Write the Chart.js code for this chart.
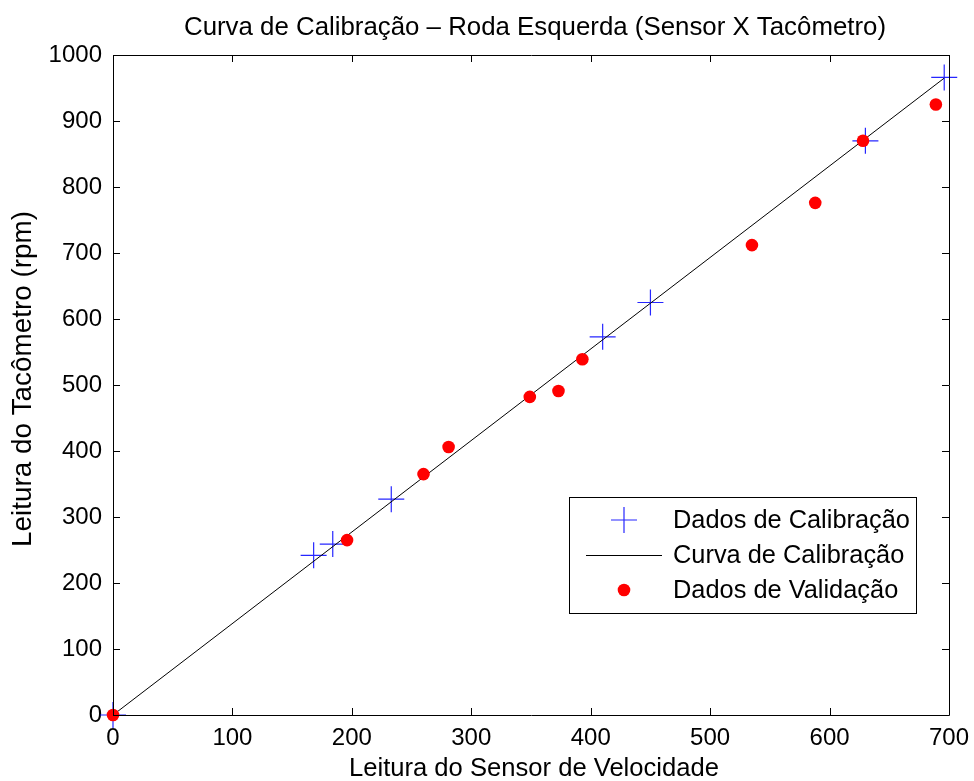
<!DOCTYPE html>
<html>
<head>
<meta charset="utf-8">
<script src="https://cdn.jsdelivr.net/npm/chart.js@4/dist/chart.umd.min.js"></script>
<style>
  html, body { margin: 0; padding: 0; background: #fff; }
  #wrap { width: 974px; height: 781px; }
</style>
</head>
<body>
<div id="wrap"><canvas id="c" width="974" height="781"></canvas></div>
<script>
// Calibration readings: sensor value vs tachometer rpm
const calibSensor = [0, 168, 184, 233, 410, 450, 630, 696];
const calibRpm    = [0, 242, 259, 327, 573, 625, 870, 966];

// Fitted calibration line end points
const curveSensor = [0, 696];
const curveRpm    = [0, 965];

// Validation readings
const validSensor = [0, 196, 260, 281, 349, 373, 393, 535, 588, 628, 689];
const validRpm    = [0, 265, 365, 406, 482, 491, 539, 712, 776, 870, 925];

const xTicks = [0, 100, 200, 300, 400, 500, 600, 700];
const yTicks = [0, 100, 200, 300, 400, 500, 600, 700, 800, 900, 1000];

const titleText  = 'Curva de Calibração \u2013 Roda Esquerda (Sensor X Tacômetro)';
const xTitleText = 'Leitura do Sensor de Velocidade';
const yTitleText = 'Leitura do Tacômetro (rpm)';
const legendLabels = ['Dados de Calibração', 'Curva de Calibração', 'Dados de Validação'];

const FONT = '"Liberation Sans", Arial, sans-serif';
const BLUE = 'rgba(0,0,255,0.85)';
const RED = '#ff0000';

const pts = (xs, ys) => xs.map((x, i) => ({ x: x, y: ys[i] }));

// pick a font size so that the text spans the given width
function fitFont(ctx, text, width) {
  ctx.font = '100px ' + FONT;
  const s = 100 * width / ctx.measureText(text).width;
  ctx.font = s.toFixed(2) + 'px ' + FONT;
}

// Box, inward ticks, titles and legend
const framePlugin = {
  id: 'frame',
  afterDraw(chart) {
    const ctx = chart.ctx;
    const a = chart.chartArea;
    const xs = chart.scales.x, ys = chart.scales.y;
    const tl = 7;
    ctx.save();
    ctx.strokeStyle = '#000';
    ctx.lineWidth = 1;
    ctx.beginPath();
    ctx.rect(Math.round(a.left) + 0.5, Math.round(a.top) + 0.5,
             Math.round(a.right - a.left), Math.round(a.bottom - a.top));
    ctx.stroke();
    ctx.beginPath();
    xTicks.forEach(v => {
      const px = Math.round(xs.getPixelForValue(v)) + 0.5;
      ctx.moveTo(px, a.bottom); ctx.lineTo(px, a.bottom - tl);
      ctx.moveTo(px, a.top); ctx.lineTo(px, a.top + tl);
    });
    yTicks.forEach(v => {
      const py = Math.round(ys.getPixelForValue(v)) + 0.5;
      ctx.moveTo(a.left, py); ctx.lineTo(a.left + tl, py);
      ctx.moveTo(a.right, py); ctx.lineTo(a.right - tl, py);
    });
    ctx.stroke();

    // titles
    ctx.fillStyle = '#000';
    ctx.textAlign = 'left';
    ctx.textBaseline = 'alphabetic';
    fitFont(ctx, titleText, 702);
    ctx.fillText(titleText, 184, 35);
    fitFont(ctx, xTitleText, 370);
    ctx.fillText(xTitleText, 349, 776);
    ctx.save();
    ctx.translate(31, 547);
    ctx.rotate(-Math.PI / 2);
    fitFont(ctx, yTitleText, 336);
    ctx.fillText(yTitleText, 0, 0);
    ctx.restore();

    // legend
    const lx = 569.5, ly = 497.5, lw = 347, lh = 116;
    ctx.fillStyle = '#fff';
    ctx.fillRect(lx, ly, lw, lh);
    ctx.strokeStyle = '#000';
    ctx.strokeRect(lx, ly, lw, lh);
    const rows = [520, 555, 590];
    ctx.textAlign = 'left';
    ctx.textBaseline = 'middle';
    ctx.fillStyle = '#000';
    fitFont(ctx, legendLabels[0], 237);
    legendLabels.forEach((t, i) => ctx.fillText(t, 673, rows[i] + 1));
    ctx.strokeStyle = BLUE;
    ctx.lineWidth = 1.2;
    ctx.beginPath();
    ctx.moveTo(611, rows[0]); ctx.lineTo(637, rows[0]);
    ctx.moveTo(624, rows[0] - 13); ctx.lineTo(624, rows[0] + 13);
    ctx.stroke();
    ctx.strokeStyle = '#000';
    ctx.lineWidth = 1;
    ctx.beginPath();
    ctx.moveTo(586, rows[1] + 0.5); ctx.lineTo(662, rows[1] + 0.5);
    ctx.stroke();
    ctx.fillStyle = RED;
    ctx.beginPath();
    ctx.arc(624, rows[2], 6.3, 0, Math.PI * 2);
    ctx.fill();
    ctx.restore();
  }
};

new Chart(document.getElementById('c'), {
  type: 'scatter',
  data: {
    datasets: [
      {
        label: legendLabels[0],
        data: pts(calibSensor, calibRpm),
        pointStyle: 'cross',
        pointRadius: 13,
        pointHoverRadius: 13,
        borderColor: BLUE,
        backgroundColor: BLUE,
        pointBorderWidth: 1.2,
        showLine: false,
        clip: false,
        order: 3
      },
      {
        label: legendLabels[1],
        type: 'line',
        data: pts(curveSensor, curveRpm),
        borderColor: '#000',
        borderWidth: 1,
        pointRadius: 0,
        showLine: true,
        fill: false,
        clip: false,
        order: 2
      },
      {
        label: legendLabels[2],
        data: pts(validSensor, validRpm),
        pointStyle: 'circle',
        pointRadius: 6.3,
        pointHoverRadius: 6.3,
        backgroundColor: RED,
        borderColor: RED,
        borderWidth: 0,
        clip: false,
        order: 1
      }
    ]
  },
  options: {
    responsive: false,
    animation: false,
    events: [],
    layout: { padding: { top: 55, right: 25, left: 0, bottom: 0 } },
    plugins: { legend: { display: false }, title: { display: false }, tooltip: { enabled: false } },
    scales: {
      x: {
        type: 'linear',
        min: 0, max: 700,
        afterBuildTicks: s => { s.ticks = xTicks.map(v => ({ value: v })); },
        afterFit: s => { s.height = 66; s.paddingLeft = 0; s.paddingRight = 0; },
        grid: { display: false, drawTicks: false },
        border: { display: false },
        ticks: { color: '#000', font: { family: FONT, size: 24 }, padding: 9, maxRotation: 0,
                 callback: v => String(v) }
      },
      y: {
        type: 'linear',
        min: 0, max: 1000,
        afterBuildTicks: s => { s.ticks = yTicks.map(v => ({ value: v })); },
        afterFit: s => { s.width = 113; s.paddingTop = 0; s.paddingBottom = 0; },
        grid: { display: false, drawTicks: false },
        border: { display: false },
        ticks: { color: '#000', font: { family: FONT, size: 24 }, padding: 11,
                 callback: v => String(v) }
      }
    }
  },
  plugins: [framePlugin]
});
</script>
</body>
</html>
